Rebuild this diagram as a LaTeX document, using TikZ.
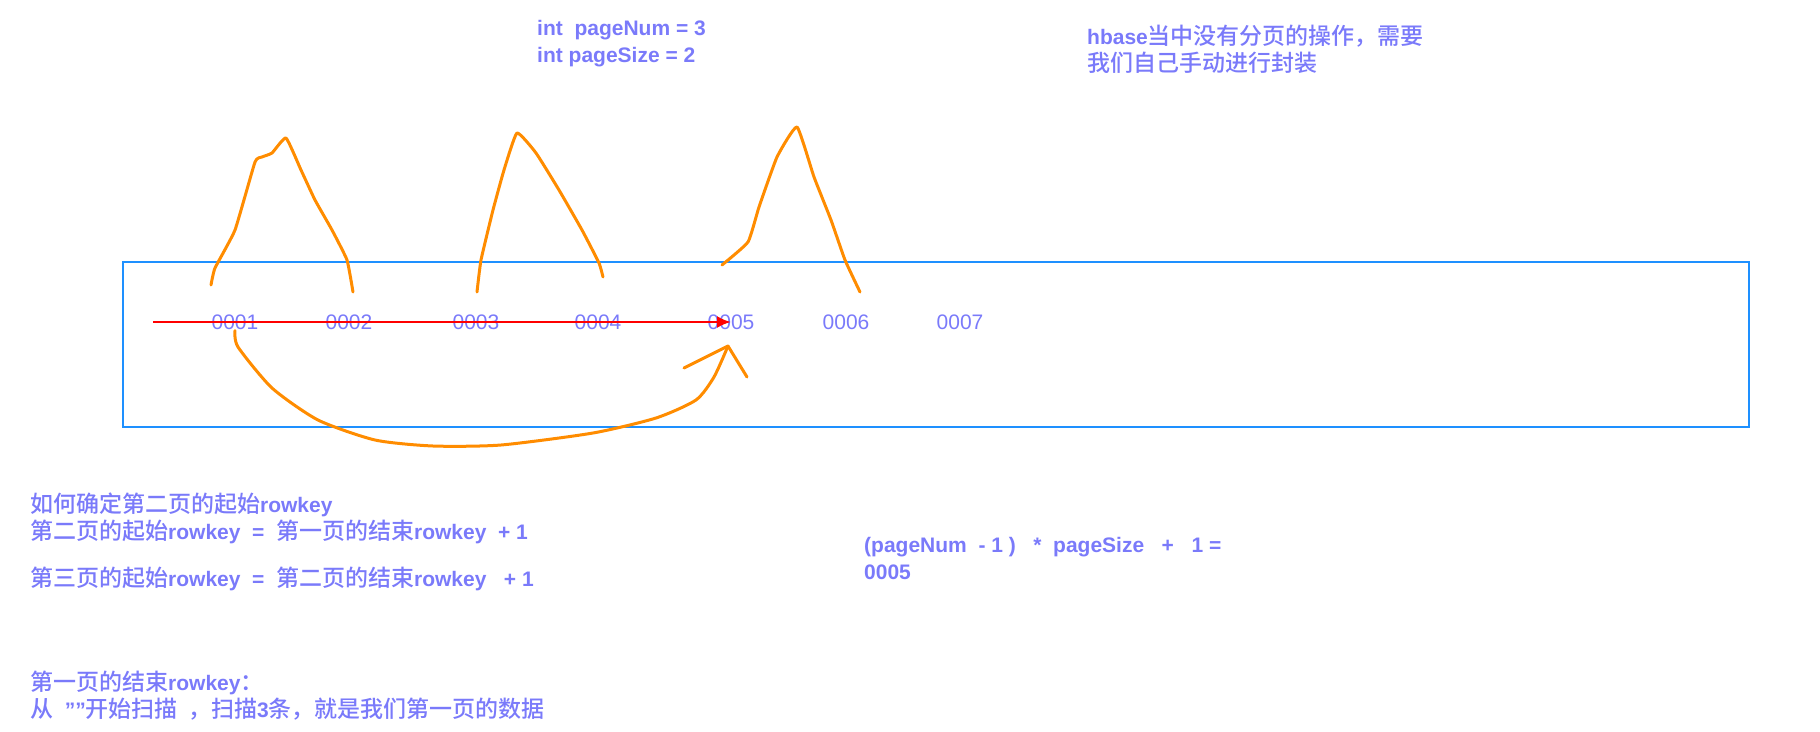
\documentclass[tikz,border=0pt]{standalone}
\usepackage{fontspec}
\setmainfont{Liberation Sans}
\newfontfamily\cjk{Noto Sans CJK SC}[Scale=1.095,BoldFont={Noto Sans CJK SC Medium}]
\usetikzlibrary{arrows.meta}
\definecolor{noteblue}{RGB}{122,122,250}
\definecolor{penorange}{RGB}{255,140,0}
\definecolor{boxblue}{RGB}{30,144,255}
\newcommand{\zh}[1]{{\cjk #1}}
\begin{document}
\begin{tikzpicture}[x=1pt,y=-1pt,
    note/.style={anchor=west,inner sep=0pt,align=left,text=noteblue,
        font=\fontsize{21}{27}\selectfont\bfseries},
    rowkey/.style={inner sep=1pt,text=noteblue,font=\fontsize{21}{25}\selectfont},
    pen/.style={penorange,line width=3pt,line cap=round,line join=round},
    scanline/.style={red,line width=2.5pt,-{Latex[length=14pt,width=12pt]}}]
    \useasboundingbox (0,0) rectangle (1820,731);

    % Variables
    \node[note] (vars) at (537,44) {int~~pageNum = 3\\int pageSize = 2};
    \node[note] (remark) at (1087,49) {hbase\zh{当中没有分页的操作，需要}\\\zh{我们自己手动进行封装}};

    % Row keys
    \draw[boxblue,line width=2pt] (123,262) rectangle (1749,427);
    \node[rowkey] (n1) at (235,322) {0001};
    \node[rowkey] (n2) at (349,322) {0002};
    \node[rowkey] (n3) at (476,322) {0003};
    \node[rowkey] (n4) at (598,322) {0004};
    \node[rowkey] (n5) at (731,322) {0005};
    \node[rowkey] (n6) at (846,322) {0006};
    \node[rowkey] (n7) at (960,322) {0007};

    % Pages
    \draw[pen] plot[smooth,tension=0.25] coordinates {(211,285) (215,268) (235,230)
        (255,162) (262,157) (272,153) (286,138) (301,170) (315,200) (332,230)
        (347,260) (353,292)};
    \draw[pen] plot[smooth,tension=0.25] coordinates {(477,292) (481,260) (493,210)
        (504,170) (517,133) (536,153) (559,190) (582,230) (599,263) (603,277)};
    \draw[pen] plot[smooth,tension=0.25] coordinates {(722,265) (748,242) (759,207)
        (777,157) (797,127) (814,177) (831,220) (845,260) (860,292)};

    % Scan
    \coordinate (scanstart) at (153,322);
    \draw[scanline] (scanstart) -- (n5.center);

    % Jump to the next page
    \coordinate (tip) at (728,346);
    \draw[pen] plot[smooth,tension=0.4] coordinates {(n1.south) (238,347) (272,388)
        (318,420) (375,440) (433,446) (501,445) (593,433) (656,418) (696,400)
        (714,377) (tip)};
    \draw[pen] (684,368) -- (tip) -- (747,377);

    % Notes
    \node[note] (howto) at (30,518) {\zh{如何确定第二页的起始}rowkey\\
        \zh{第二页的起始}rowkey~~=~~\zh{第一页的结束}rowkey~~+ 1};
    \node[note] (third) at (30,579) {\zh{第三页的起始}rowkey~~=~~\zh{第二页的结束}rowkey~~~+ 1};
    \node[note] (formula) at (864,558) {(pageNum~~- 1 )~~~*~~pageSize~~~+~~~1 =\\0005};
    \node[note] (firstend) at (30,696) {\zh{第一页的结束}rowkey\zh{：}\\
        \zh{从}~~\symbol{34}\symbol{34}\zh{开始扫描~~，扫描}3\zh{条，就是我们第一页的数据}};
\end{tikzpicture}
\end{document}
